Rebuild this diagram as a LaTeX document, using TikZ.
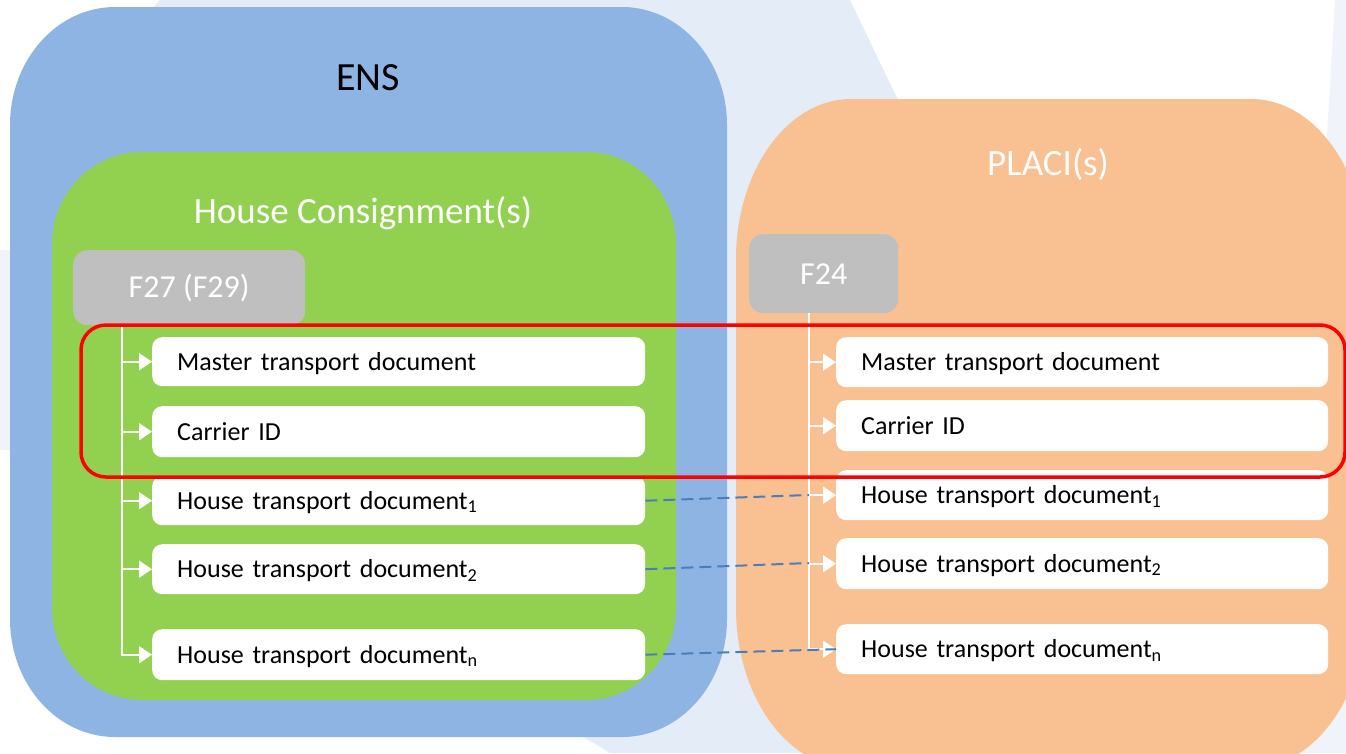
\documentclass[tikz,border=0pt]{standalone}
\usepackage{fontspec}
\setmainfont{Carlito}
\usetikzlibrary{arrows.meta}
\definecolor{ensblue}{HTML}{8EB4E3}
\definecolor{hcgreen}{HTML}{92D050}
\definecolor{placiorange}{HTML}{F9C191}
\definecolor{fgray}{HTML}{BFBFBF}
\definecolor{bgblue}{HTML}{E3ECF7}
\definecolor{bgfaint}{HTML}{F0F4FA}
\definecolor{linkblue}{HTML}{4A7EBB}
\newcommand{\ovalrect}[7]{%
  \fill[#1] ({#2+#6},#3) -- ({#4-#6},#3)
    arc[start angle=270,end angle=360,x radius=#6pt,y radius=#7pt] -- (#4,{#5-#7})
    arc[start angle=0,end angle=90,x radius=#6pt,y radius=#7pt] -- ({#2+#6},#5)
    arc[start angle=90,end angle=180,x radius=#6pt,y radius=#7pt] -- (#2,{#3+#7})
    arc[start angle=180,end angle=270,x radius=#6pt,y radius=#7pt] -- cycle;}
\tikzset{
  item/.style={fill=white, rounded corners=10pt, anchor=north west,
    minimum height=49pt, text width=443pt, inner xsep=25pt, inner ysep=0pt,
    align=left, text height=17pt, text depth=0pt,
    font=\fontsize{26}{30}\selectfont, text=black},
  fbox/.style={fill=fgray, rounded corners=14pt, anchor=north west, inner sep=0pt,
    text=white, font=\fontsize{32}{38}\selectfont},
  title/.style={inner sep=0pt, font=\fontsize{37}{44}\selectfont},
  tree/.style={draw=white, line width=2pt, -{Triangle[length=13pt,width=17pt,fill=white]}},
  link/.style={draw=linkblue, line width=2pt, dash pattern=on 12pt off 6pt},
  highlight/.style={draw=red, line width=3.5pt, rounded corners=25pt}
}
\begin{document}
\begin{tikzpicture}[x=1pt,y=1pt,yscale=-1]
\useasboundingbox (0,0) rectangle (1346,753);
\clip (0,0) rectangle (1346,753);
% background watermark
\fill[white] (0,0) rectangle (1346,753);
\fill[bgfaint] (0,250) -- (60,250) -- (60,450) -- (0,450) -- cycle;
\fill[bgblue] (160,0) -- (850,0) -- (1211,753) -- (610,753) -- (60,420) -- (60,120) -- cycle;
\fill[bgfaint] (1335,0) -- (1346,0) -- (1346,753) -- (1290,753) -- cycle;
% containers
\ovalrect{ensblue}{10}{7}{727}{737}{105}{118}
\ovalrect{hcgreen}{52}{152}{676}{700}{90}{92}
\ovalrect{placiorange}{736}{99}{1366}{768}{115}{160}
\node[title, font=\fontsize{40}{48}\selectfont, text=black] (ens) at (368,78) {ENS};
\node[title, text=white] (hc) at (363,213) {House Consignment(s)};
\node[title, text=white] (placi) at (1048,165) {PLACI(s)};
% gray boxes
\node[fbox, minimum width=232pt, minimum height=75pt] (f27) at (73,250) {F27 (F29)};
\node[fbox, minimum width=149pt, minimum height=79pt] (f24) at (749,234) {F24};
% left items
\node[item] (lm) at (152,337) {Master transport document};
\node[item, minimum height=51pt] (lc) at (152,406) {Carrier ID};
\node[item] (lh1) at (152,476) {House transport document\textsubscript{1}};
\node[item, minimum height=50pt] (lh2) at (152,544) {House transport document\textsubscript{2}};
\node[item, minimum height=51pt] (lhn) at (152,629) {House transport document\textsubscript{n}};
% right items
\node[item, text width=442pt, minimum height=50pt] (rm) at (836,337) {Master transport document};
\node[item, text width=442pt, minimum height=51pt] (rc) at (836,400) {Carrier ID};
\node[item, text width=442pt, minimum height=50pt] (rh1) at (836,470) {House transport document\textsubscript{1}};
\node[item, text width=442pt, minimum height=51pt] (rh2) at (836,538) {House transport document\textsubscript{2}};
\node[item, text width=442pt, minimum height=50pt] (rhn) at (836,624) {House transport document\textsubscript{n}};
% tree connectors
\coordinate (lt) at (122,325);
\coordinate (rt) at (809,313);
\foreach \b in {lm,lc,lh1,lh2,lhn} \draw[tree] (lt) |- (\b.west);
\foreach \b in {rm,rc,rh1,rh2,rhn} \draw[tree] (rt) |- (\b.west);
% dashed links
\coordinate (d1) at (809,495);
\coordinate (d2) at (809,563);
\draw[link] (lh1.east) -- (d1);
\draw[link] (lh2.east) -- (d2);
\draw[link] (lhn.east) -- (rhn.west);
% highlight
\draw[highlight] (81,325) rectangle (1345,477);
\end{tikzpicture}
\end{document}
